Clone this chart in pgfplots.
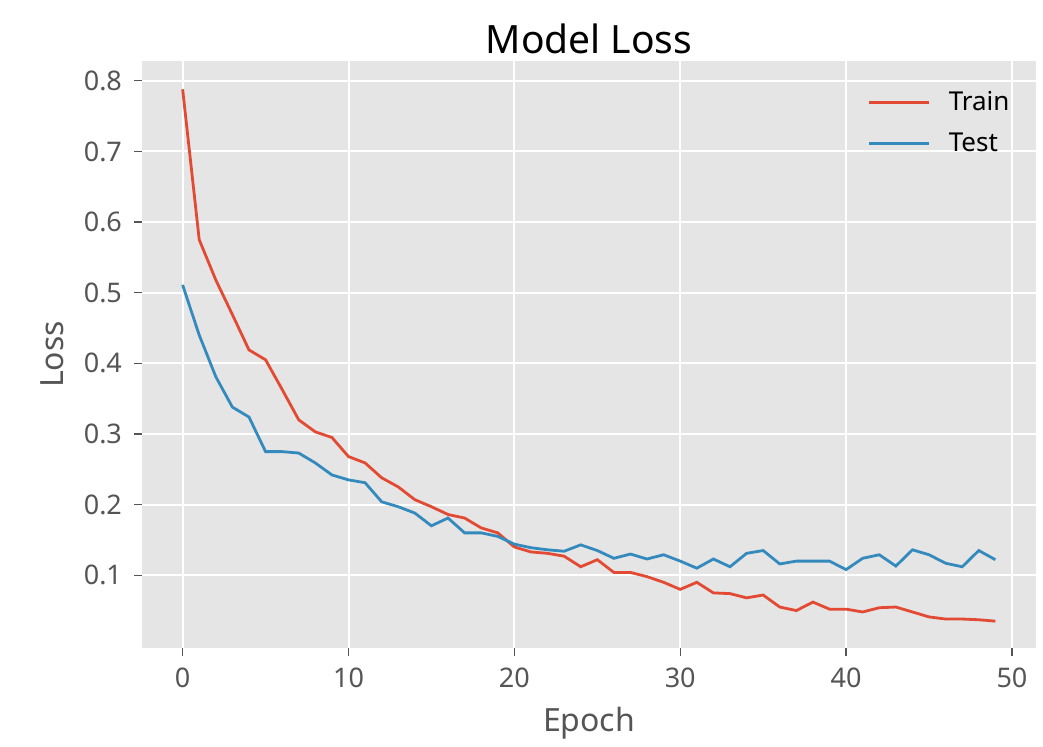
\documentclass[border=0pt]{standalone}
\usepackage{pgfplots}
\pgfplotsset{compat=1.18}
\usepackage{fontspec}
\setmainfont{Noto Sans}
\definecolor{ggbg}{HTML}{E5E5E5}
\definecolor{ggred}{HTML}{E24A33}
\definecolor{ggblue}{HTML}{348ABD}
\definecolor{gggray}{HTML}{555555}
\begin{document}
\begin{tikzpicture}
\path (-71pt,-48pt) rectangle (450.5pt,324pt);
\begin{axis}[
  at={(0,0)}, anchor=south west,
  scale only axis, width=447pt, height=293.5pt,
  xmin=-2.45, xmax=51.45, ymin=-0.003, ymax=0.828,
  axis background/.style={fill=ggbg},
  axis line style={draw=none},
  grid=major, major grid style={white, line width=1pt},
  xtick={0,10,20,30,40,50},
  ytick={0.1,0.2,0.3,0.4,0.5,0.6,0.7,0.8},
  yticklabel style={/pgf/number format/fixed,/pgf/number format/precision=1,/pgf/number format/fixed zerofill, xshift=-2.5pt},
  xticklabel style={yshift=-2.5pt},
  /pgf/number format/assume math mode=true,
  tick align=outside, tick pos=left,
  major tick length=4pt,
  tick style={gggray, line width=0.6pt},
  ticklabel style={font=\fontsize{13.5}{15}\selectfont, text=gggray},
  xlabel={Epoch}, ylabel={Loss},
  label style={font=\fontsize{16}{18}\selectfont, text=gggray},
  xlabel style={yshift=-3pt},
  ylabel style={yshift=3pt},
  title={Model Loss},
  title style={font=\fontsize{19.5}{22}\selectfont, yshift=-6pt},
  legend style={draw=none, fill=none, at={(0.982,0.962)}, anchor=north east,
    font=\fontsize{13}{15}\selectfont, row sep=5.5pt,
    /tikz/every odd column/.append style={column sep=7pt}},
  legend cell align=left,
  legend image code/.code={\draw[#1, line width=1.4pt] (0pt,0pt) -- (30pt,0pt);},
]
\addplot[ggred, line width=1.4pt] coordinates {
(0,0.788)(1,0.575)(2,0.518)(3,0.469)(4,0.419)(5,0.405)(6,0.363)(7,0.320)(8,0.303)(9,0.295)
(10,0.268)(11,0.259)(12,0.238)(13,0.225)(14,0.207)(15,0.197)(16,0.186)(17,0.181)(18,0.167)(19,0.160)
(20,0.140)(21,0.133)(22,0.131)(23,0.127)(24,0.112)(25,0.122)(26,0.104)(27,0.104)(28,0.098)(29,0.090)
(30,0.080)(31,0.090)(32,0.075)(33,0.074)(34,0.068)(35,0.072)(36,0.055)(37,0.050)(38,0.062)(39,0.052)
(40,0.052)(41,0.048)(42,0.054)(43,0.055)(44,0.048)(45,0.041)(46,0.038)(47,0.038)(48,0.037)(49,0.035)
};
\addlegendentry{Train}
\addplot[ggblue, line width=1.4pt] coordinates {
(0,0.511)(1,0.440)(2,0.381)(3,0.338)(4,0.324)(5,0.275)(6,0.275)(7,0.273)(8,0.259)(9,0.242)
(10,0.235)(11,0.231)(12,0.204)(13,0.197)(14,0.188)(15,0.170)(16,0.181)(17,0.160)(18,0.160)(19,0.155)
(20,0.144)(21,0.139)(22,0.136)(23,0.134)(24,0.143)(25,0.135)(26,0.124)(27,0.130)(28,0.123)(29,0.129)
(30,0.120)(31,0.110)(32,0.123)(33,0.112)(34,0.131)(35,0.135)(36,0.116)(37,0.120)(38,0.120)(39,0.120)
(40,0.108)(41,0.124)(42,0.129)(43,0.113)(44,0.136)(45,0.129)(46,0.117)(47,0.112)(48,0.135)(49,0.122)
};
\addlegendentry{Test}
\end{axis}
\end{tikzpicture}
\end{document}
